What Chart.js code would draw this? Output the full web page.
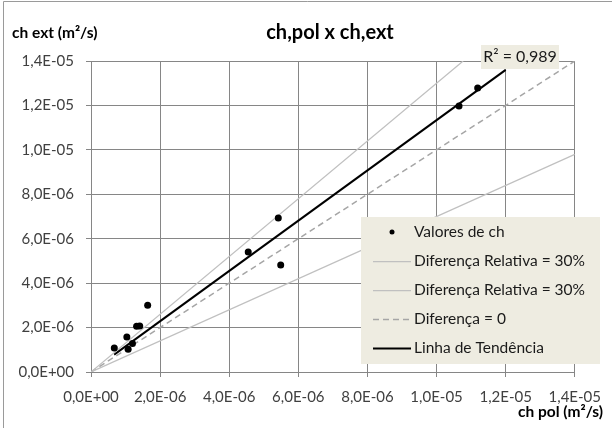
<!DOCTYPE html>
<html>
<head>
<meta charset="utf-8">
<script src="https://cdn.jsdelivr.net/npm/chart.js@4.4.1/dist/chart.umd.min.js"></script>
<style>
  html, body { margin: 0; padding: 0; background: #fff; }
  #wrap { width: 612px; height: 428px; position: relative; }
</style>
</head>
<body>
<div id="wrap"><canvas id="chart" width="612" height="428"></canvas></div>
<script>
// Measured points (ch pol on x, ch ext on y), m²/s
const chPol = [0.674e-6, 1.037e-6, 1.075e-6, 1.20e-6, 1.32e-6, 1.41e-6, 1.64e-6, 4.55e-6, 5.42e-6, 5.49e-6, 10.65e-6, 11.19e-6];
const chExt = [1.08e-6, 1.58e-6, 1.02e-6, 1.28e-6, 2.06e-6, 2.07e-6, 3.00e-6, 5.40e-6, 6.93e-6, 4.82e-6, 11.97e-6, 12.78e-6];

// Reference lines (+30%, -30%, equal) and trend line end points
const upperX = [0, 1.077e-5];
const upperY = [0, 1.4e-5];
const lowerX = [0, 1.4e-5];
const lowerY = [0, 0.98e-5];
const equalX = [0, 1.4e-5];
const equalY = [0, 1.4e-5];
const trendX = [0.67e-6, 1.2e-5];
const trendY = [0.78e-6, 1.36e-5];

const tickValues = [0, 2e-6, 4e-6, 6e-6, 8e-6, 1e-5, 1.2e-5, 1.4e-5];
const tickLabels = ['0,0E+00', '2,0E-06', '4,0E-06', '6,0E-06', '8,0E-06', '1,0E-05', '1,2E-05', '1,4E-05'];

const seriesLabels = ['Valores de ch', 'Diferença Relativa = 30%', 'Diferença Relativa = 30%', 'Diferença = 0', 'Linha de Tendência'];
const titleText = 'ch,pol x ch,ext';
const yTitle = 'ch ext (m²/s)';
const xTitle = 'ch pol (m²/s)';
const r2Text = 'R² = 0,989';

const FONT = 'Lato, "Open Sans", sans-serif';
const GRID = '#868686';
const BEIGE = '#EEECE1';

const toXY = (xs, ys) => xs.map((x, i) => ({ x: x, y: ys[i] }));

// Draws titles, R² label, legend and the outer frame
const decorations = {
    id: 'decorations',
    afterDraw(chart) {
        const ctx = chart.ctx;
        ctx.save();
        // outer frame
        ctx.strokeStyle = '#9a9a9a';
        ctx.lineWidth = 1;
        ctx.beginPath();
        ctx.moveTo(3.5, 428);
        ctx.lineTo(3.5, 1.5);
        ctx.lineTo(612, 1.5);
        ctx.stroke();

        ctx.fillStyle = '#000';
        ctx.textBaseline = 'middle';
        ctx.font = 'bold 20px ' + FONT;
        ctx.textAlign = 'center';
        ctx.fillText(titleText, 330, 33);

        ctx.font = 'bold 15.5px ' + FONT;
        ctx.textAlign = 'left';
        ctx.fillText(yTitle, 12, 33);
        ctx.textAlign = 'right';
        ctx.fillText(xTitle, 603, 412);

        // R² label
        ctx.fillStyle = BEIGE;
        ctx.fillRect(481, 45, 78, 24);
        ctx.fillStyle = '#1a1a1a';
        ctx.font = '16px ' + FONT;
        ctx.textAlign = 'center';
        ctx.fillText(r2Text, 520, 57);

        // legend
        ctx.fillStyle = BEIGE;
        ctx.fillRect(361, 217, 239, 147);
        const rowY = [232, 261, 290, 319, 348];
        ctx.font = '15.5px ' + FONT;
        ctx.textAlign = 'left';
        chart.data.datasets.forEach((ds, i) => {
            const y = rowY[i];
            if (i === 0) {
                ctx.fillStyle = '#000';
                ctx.beginPath();
                ctx.arc(392, y, 2.5, 0, Math.PI * 2);
                ctx.fill();
            } else {
                ctx.strokeStyle = ds.borderColor;
                ctx.lineWidth = ds.borderWidth;
                ctx.setLineDash(ds.borderDash || []);
                ctx.beginPath();
                ctx.moveTo(373, y + 0.5);
                ctx.lineTo(411, y + 0.5);
                ctx.stroke();
                ctx.setLineDash([]);
            }
            ctx.fillStyle = '#1a1a1a';
            ctx.fillText(ds.label, 414, y);
        });
        ctx.restore();
    }
};

const lineSet = (label, data, color, width, dash) => ({
    label: label,
    data: data,
    showLine: true,
    borderColor: color,
    borderWidth: width,
    borderDash: dash,
    pointRadius: 0,
    pointHoverRadius: 0
});

new Chart(document.getElementById('chart'), {
    type: 'scatter',
    data: {
        datasets: [
            {
                label: seriesLabels[0],
                data: toXY(chPol, chExt),
                backgroundColor: '#000',
                borderColor: '#000',
                pointRadius: 3.5,
                pointBorderWidth: 0
            },
            lineSet(seriesLabels[1], toXY(upperX, upperY), '#c0c0c0', 1.25, []),
            lineSet(seriesLabels[2], toXY(lowerX, lowerY), '#c0c0c0', 1.25, []),
            lineSet(seriesLabels[3], toXY(equalX, equalY), '#a6a6a6', 1.5, [6, 4]),
            lineSet(seriesLabels[4], toXY(trendX, trendY), '#000', 2, [])
        ]
    },
    options: {
        responsive: false,
        animation: false,
        layout: { padding: { left: 0, top: 61, right: 31, bottom: 0 } },
        plugins: {
            legend: { display: false },
            tooltip: { enabled: false }
        },
        scales: {
            x: {
                type: 'linear',
                min: 0,
                max: 1.4e-5,
                afterBuildTicks: scale => { scale.ticks = tickValues.map(v => ({ value: v })); },
                afterFit: scale => { scale.height = 56; },
                grid: { color: GRID, tickLength: 5, lineWidth: 1 },
                border: { color: GRID },
                ticks: {
                    padding: 11,
                    color: '#404040',
                    font: { family: FONT, size: 15 },
                    maxRotation: 0,
                    autoSkip: false,
                    callback: (v, i) => tickLabels[i]
                }
            },
            y: {
                type: 'linear',
                min: 0,
                max: 1.4e-5,
                afterBuildTicks: scale => { scale.ticks = tickValues.map(v => ({ value: v })); },
                afterFit: scale => { scale.width = 91; },
                grid: { color: GRID, tickLength: 5, lineWidth: 1 },
                border: { color: GRID },
                ticks: {
                    padding: 12,
                    color: '#404040',
                    font: { family: FONT, size: 15 },
                    autoSkip: false,
                    callback: (v, i) => tickLabels[i]
                }
            }
        }
    },
    plugins: [decorations]
});
</script>
</body>
</html>
